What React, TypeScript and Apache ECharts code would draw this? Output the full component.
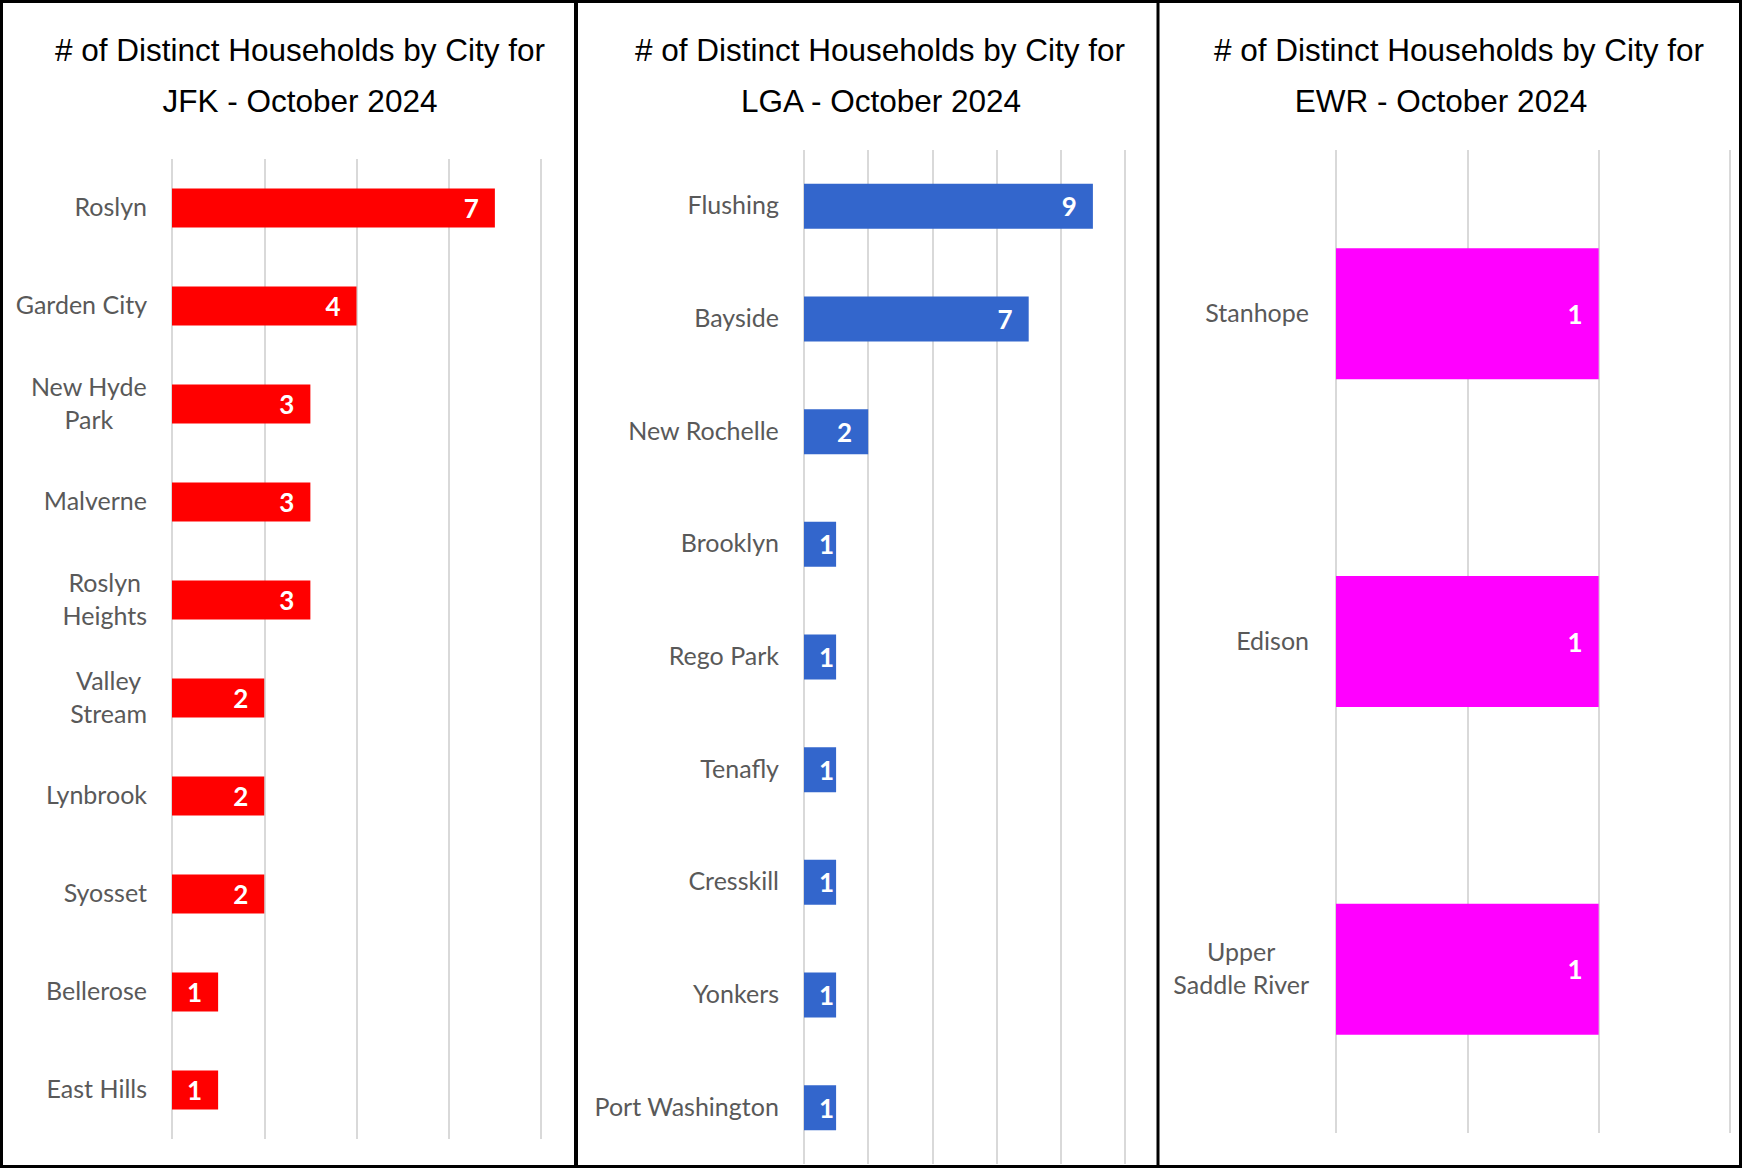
import React, { useEffect, useRef } from "react";
import * as echarts from "echarts";

const jfkCities = ["Roslyn", "Garden City", "New Hyde\nPark", "Malverne", "Roslyn\nHeights", "Valley\nStream", "Lynbrook", "Syosset", "Bellerose", "East Hills"];
const jfkValues = [7, 4, 3, 3, 3, 2, 2, 2, 1, 1];

const lgaCities = ["Flushing", "Bayside", "New Rochelle", "Brooklyn", "Rego Park", "Tenafly", "Cresskill", "Yonkers", "Port Washington"];
const lgaValues = [9, 7, 2, 1, 1, 1, 1, 1, 1];

const ewrCities = ["Stanhope", "Edison", "Upper\nSaddle River"];
const ewrValues = [1, 1, 1];

const titleLine1 = "# of Distinct Households by City for";
const titleLine2 = ["JFK - October 2024", "LGA - October 2024", "EWR - October 2024"];

const colors = ["#FF0000", "#3366CC", "#FF00FF"];

const labelFont = "Lato";

function catFormatter(v: string) {
  return v.split("\n").map((l) => `{c|${l}}`).join("\n");
}

export default function App() {
  const ref = useRef<HTMLDivElement>(null);
  useEffect(() => {
    document.body.style.margin = "0";
    const chart = echarts.init(ref.current!, null, { renderer: "svg" });
    const grids = [
      { left: 172, top: 159, width: 369, height: 980 },
      { left: 804, top: 150, width: 321, height: 1014 },
      { left: 1336, top: 150, width: 394, height: 983 },
    ];
    const xMax = [8, 10, 1.5];
    const xInt = [2, 2, 0.5];
    const cats = [jfkCities, lgaCities, ewrCities];
    const vals = [jfkValues, lgaValues, ewrValues];
    const margins = [25, 25, 27];
    const title1X = [300, 880, 1459];
    const title2X = [300, 881, 1441];

    const titleStyle = {
      fontFamily: "Liberation Sans",
      fontSize: 31.5,
      fontWeight: "normal",
      color: "#000000",
      lineHeight: 40,
    };

    const titles: any[] = [];
    for (let i = 0; i < 3; i++) {
      titles.push({ text: titleLine1, left: title1X[i], top: 30, textAlign: "center", padding: 0, textStyle: titleStyle });
      titles.push({ text: titleLine2[i], left: title2X[i], top: 81, textAlign: "center", padding: 0, textStyle: titleStyle });
    }

    const labelW = 14;
    const option: any = {
      animation: false,
      backgroundColor: "#FFFFFF",
      title: titles,
      grid: grids.map((g) => ({ ...g, containLabel: false })),
      xAxis: grids.map((_, i) => ({
        type: "value",
        gridIndex: i,
        min: 0,
        max: xMax[i],
        interval: xInt[i],
        axisLabel: { show: false },
        axisLine: { show: false },
        axisTick: { show: false },
        splitLine: { show: true, lineStyle: { color: "#D9D9D9", width: 2 } },
      })),
      yAxis: grids.map((_, i) => ({
        type: "category",
        gridIndex: i,
        inverse: true,
        data: cats[i],
        axisLine: { show: false },
        axisTick: { show: false },
        axisLabel: {
          margin: margins[i],
          formatter: catFormatter,
          padding: [0, 0, 4, 0],
          rich: {
            c: {
              fontFamily: labelFont,
              fontSize: 25,
              color: "#595959",
              lineHeight: 33,
              align: "center",
            },
          },
        },
      })),
      series: grids.map((g, i) => ({
        type: "bar",
        xAxisIndex: i,
        yAxisIndex: i,
        data: vals[i].map((v) => {
          const barW = (v / xMax[i]) * g.width;
          const d = Math.min(16, Math.max(2, barW - labelW - 16));
          return { value: v, label: { distance: d } };
        }),
        barCategoryGap: "60%",
        itemStyle: { color: colors[i] },
        label: {
          show: true,
          position: "insideRight",
          color: "#FFFFFF",
          fontFamily: labelFont,
          fontWeight: "bold",
          fontSize: 26,
        },
      })),
      graphic: [
        {
          type: "rect",
          shape: { x: 1.5, y: 1.5, width: 1739, height: 1165 },
          style: { fill: "none", stroke: "#000000", lineWidth: 3 },
          z: 100,
        },
        {
          type: "line",
          shape: { x1: 576, y1: 0, x2: 576, y2: 1168 },
          style: { stroke: "#000000", lineWidth: 4 },
          z: 100,
        },
        {
          type: "line",
          shape: { x1: 1158, y1: 0, x2: 1158, y2: 1168 },
          style: { stroke: "#000000", lineWidth: 3 },
          z: 100,
        },
      ],
    };
    chart.setOption(option);
    return () => chart.dispose();
  }, []);
  return <div ref={ref} style={{ width: 1742, height: 1168 }} />;
}
